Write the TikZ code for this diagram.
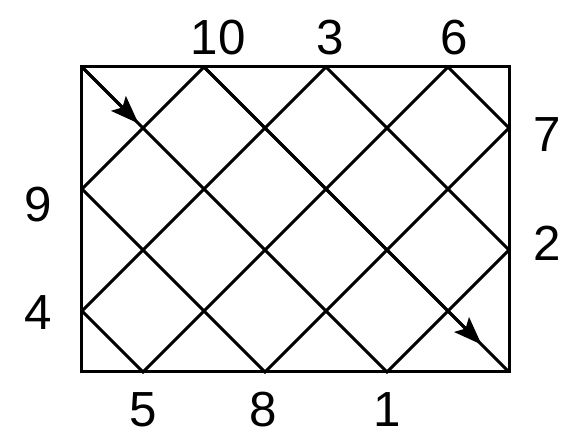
\documentclass[tikz,border=0pt]{standalone}
\usepackage{fontspec}
\setmainfont{Liberation Sans}
\usetikzlibrary{arrows.meta,calc}
\begin{document}
\begin{tikzpicture}[x=1cm,y=1cm,
  ln/.style={line width=1.4pt,line join=miter},
  lab/.style={font=\fontsize{23}{25}\selectfont,inner sep=0pt},
  tip/.style={line width=1.4pt,-{Stealth[length=0.46cm,width=0.34cm,inset=0.09cm]}}]
\useasboundingbox (-1.344,-1.23) rectangle (8.0,6.098);
% corners
\coordinate (A) at (0,5);
\coordinate (B) at (7,5);
\coordinate (C) at (7,0);
\coordinate (D) at (0,0);
% bounce points
\coordinate (p1) at (5,0);
\coordinate (p2) at (7,2);
\coordinate (p3) at (4,5);
\coordinate (p4) at (0,1);
\coordinate (p5) at (1,0);
\coordinate (p6) at (6,5);
\coordinate (p7) at (7,4);
\coordinate (p8) at (3,0);
\coordinate (p9) at (0,3);
\coordinate (p10) at (2,5);
\draw[ln] (A) -- (B) -- (C) -- (D) -- cycle;
\draw[ln] (A) -- (p1) -- (p2) -- (p3) -- (p4) -- (p5) -- (p6) -- (p7) -- (p8) -- (p9) -- (p10) -- (C);
% arrows
\draw[tip] (A) -- ($(A)!0.185!(p1)$);
\draw[tip] (p10) -- ($(p10)!0.91!(C)$);
% labels
\node[lab] (l10) at (2.23,5.48) {10};
\node[lab] (l3) at (4.07,5.48) {3};
\node[lab] (l6) at (6.11,5.48) {6};
\node[lab] (l7) at (7.62,3.9) {7};
\node[lab] (l2) at (7.62,2.11) {2};
\node[lab] (l9) at (-0.72,2.74) {9};
\node[lab] (l4) at (-0.72,0.97) {4};
\node[lab] (l5) at (1.0,-0.62) {5};
\node[lab] (l8) at (2.97,-0.62) {8};
\node[lab] (l1) at (5.0,-0.62) {1};
\end{tikzpicture}
\end{document}
